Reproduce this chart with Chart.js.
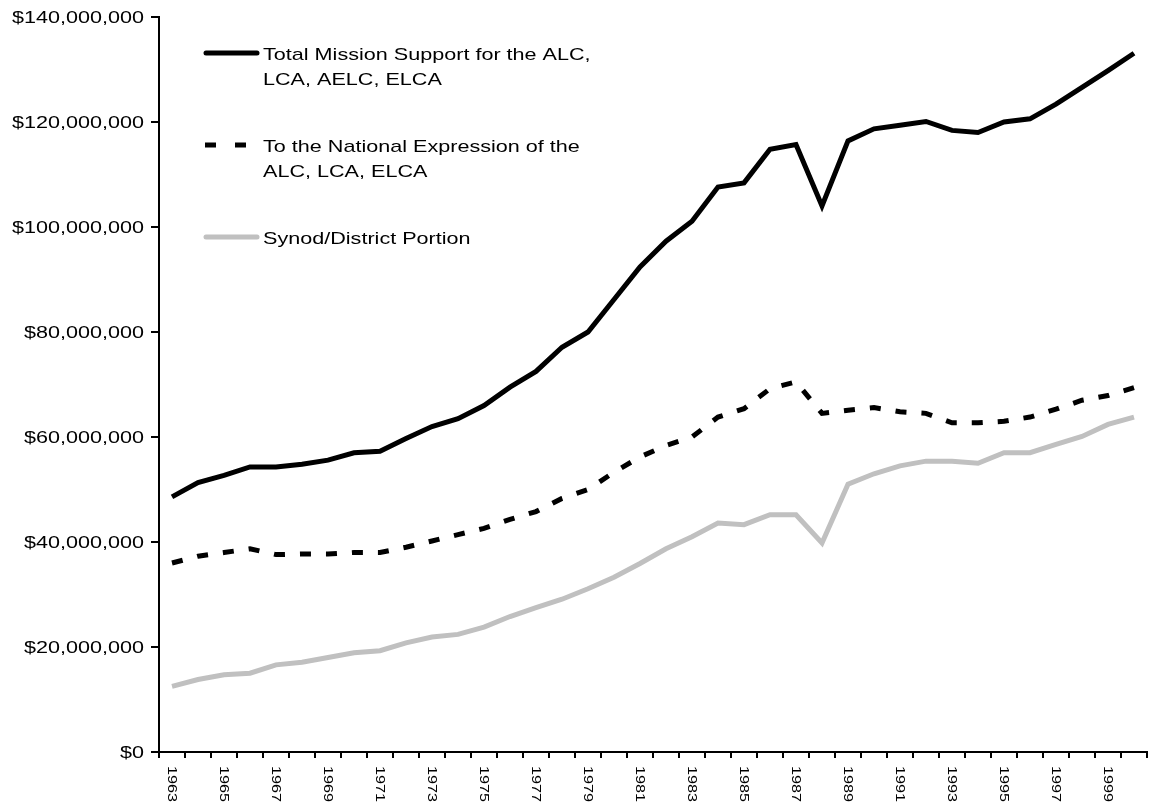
<!DOCTYPE html>
<html>
<head>
<meta charset="utf-8">
<script src="https://cdn.jsdelivr.net/npm/chart.js@4.4.1/dist/chart.umd.min.js"></script>
<style>
  html, body { margin: 0; padding: 0; background: #fff; }
  #wrap { width: 1151px; height: 803px; position: relative; }
</style>
</head>
<body>
<div id="wrap"><canvas id="chart"></canvas></div>
<script>
// years on the category axis
const years = [];
for (let y = 1963; y <= 2000; y++) years.push(String(y));

// y axis ticks
const yTicks = [0, 20e6, 40e6, 60e6, 80e6, 100e6, 120e6, 140e6];

// values, in millions of dollars
const totalSupport = [48.6, 51.3, 52.7, 54.3, 54.3, 54.8, 55.6, 57.0, 57.3, 59.7,
  62.0, 63.5, 66.0, 69.5, 72.5, 77.1, 80.0, 86.2, 92.4, 97.3,
  101.1, 107.6, 108.4, 114.8, 115.7, 104.0, 116.4, 118.7, 119.4, 120.1,
  118.4, 118.0, 120.0, 120.6, 123.4, 126.6, 129.8, 133.1].map(v => v * 1e6);
const nationalExpr = [36.0, 37.3, 38.0, 38.7, 37.6, 37.7, 37.7, 38.0, 38.0, 39.0,
  40.2, 41.4, 42.6, 44.3, 45.8, 48.3, 50.0, 53.3, 56.2, 58.4,
  60.0, 63.8, 65.4, 69.2, 70.5, 64.5, 65.1, 65.6, 64.8, 64.5,
  62.7, 62.7, 63.0, 63.8, 65.3, 67.0, 67.9, 69.4].map(v => v * 1e6);
const synodPortion = [12.5, 13.8, 14.7, 15.0, 16.6, 17.1, 18.0, 18.9, 19.3, 20.8,
  21.9, 22.4, 23.8, 25.8, 27.5, 29.1, 31.1, 33.3, 35.9, 38.7,
  41.0, 43.6, 43.3, 45.2, 45.2, 39.8, 51.0, 53.0, 54.5, 55.4,
  55.4, 55.0, 57.0, 57.0, 58.6, 60.1, 62.4, 63.8].map(v => v * 1e6);

const legendItems = [
  { lines: ['Total Mission Support for the ALC,', 'LCA, AELC, ELCA'], color: '#000', dash: [] },
  { lines: ['To the National Expression of the', 'ALC, LCA, ELCA'], color: '#000', dash: [11, 19] },
  { lines: ['Synod/District Portion'], color: '#c0c0c0', dash: [] }
];

const FONT = '"Liberation Sans", Arial, sans-serif';
const STRETCH = 1.27; // text in the original is drawn wide

const money = v => '$' + v.toLocaleString('en-US');

// legend, y labels and rotated year labels drawn by hand
const extras = {
  id: 'extras',
  afterDraw(chart) {
    const c = chart.ctx;
    const xs = chart.scales.x;
    const ys = chart.scales.y;
    const bottom = chart.chartArea.bottom;
    c.save();
    c.fillStyle = '#000';

    // y labels
    c.font = '17px ' + FONT;
    c.textAlign = 'right';
    c.textBaseline = 'middle';
    yTicks.forEach(v => {
      c.save();
      c.translate(144, ys.getPixelForValue(v) + 1);
      c.scale(STRETCH, 1);
      c.fillText(money(v), 0, 0);
      c.restore();
    });

    // year labels, every other year, rotated clockwise
    c.font = '13.5px ' + FONT;
    c.textAlign = 'left';
    years.forEach((yr, i) => {
      if (i % 2 !== 0) return;
      c.save();
      c.translate(xs.getPixelForValue(i), bottom + 14);
      c.rotate(Math.PI / 2);
      c.scale(1.2, 1);
      c.fillText(yr, 0, 0);
      c.restore();
    });

    // legend
    const tops = [55, 147, 239];
    legendItems.forEach((it, k) => {
      const y = tops[k];
      c.beginPath();
      c.strokeStyle = it.color;
      c.lineWidth = 5;
      c.setLineDash(it.dash);
      if (it.dash.length) {
        c.lineCap = 'butt';
        c.moveTo(205, y - 2);
        c.lineTo(250, y - 2);
      } else {
        c.lineCap = 'round';
        c.moveTo(206, y - 2);
        c.lineTo(257, y - 2);
      }
      c.stroke();
      c.setLineDash([]);
      c.font = '17px ' + FONT;
      c.textAlign = 'left';
      c.textBaseline = 'middle';
      it.lines.forEach((t, j) => {
        c.save();
        c.translate(263, y + j * 25);
        c.scale(STRETCH, 1);
        c.fillText(t, 0, 0);
        c.restore();
      });
    });
    c.restore();
  }
};

new Chart(document.getElementById('chart'), {
  type: 'line',
  data: {
    labels: years,
    datasets: [
      { label: 'Synod/District Portion', data: synodPortion, borderColor: '#c0c0c0', borderWidth: 5, pointRadius: 0, tension: 0 },
      { label: 'To the National Expression of the ALC, LCA, ELCA', data: nationalExpr, borderColor: '#000', borderWidth: 5, borderDash: [11, 15], pointRadius: 0, tension: 0 },
      { label: 'Total Mission Support for the ALC, LCA, AELC, ELCA', data: totalSupport, borderColor: '#000', borderWidth: 5, pointRadius: 0, tension: 0 }
    ]
  },
  options: {
    responsive: true,
    maintainAspectRatio: false,
    animation: false,
    layout: { padding: { top: 17, right: 4, left: 0, bottom: 0 } },
    plugins: { legend: { display: false }, tooltip: { enabled: false } },
    scales: {
      x: {
        offset: true,
        grid: { offset: true, drawOnChartArea: false, drawTicks: true, tickLength: 6, color: '#000', lineWidth: 2 },
        border: { display: true, color: '#000', width: 2 },
        ticks: { display: false, autoSkip: false },
        afterFit: s => { s.height = 51; }
      },
      y: {
        min: 0,
        max: 140000000,
        grid: { drawOnChartArea: false, drawTicks: true, tickLength: 8, color: '#000', lineWidth: 2 },
        border: { display: true, color: '#000', width: 2 },
        ticks: { display: false, stepSize: 20000000 },
        afterFit: s => { s.width = 159; }
      }
    }
  },
  plugins: [extras]
});
</script>
</body>
</html>
